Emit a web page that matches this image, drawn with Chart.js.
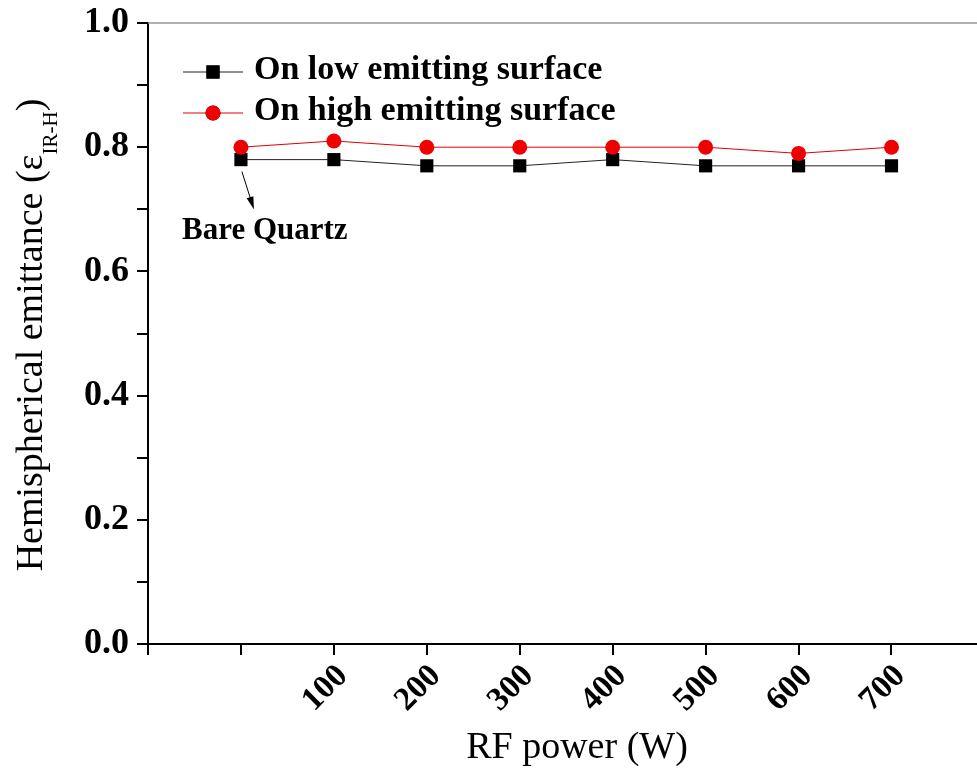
<!DOCTYPE html>
<html>
<head>
<meta charset="utf-8">
<script src="https://cdn.jsdelivr.net/npm/chart.js@4.4.0/dist/chart.umd.min.js"></script>
<style>
  html, body { margin: 0; padding: 0; background: #fff; }
  #wrap { width: 977px; height: 774px; }
</style>
</head>
<body>
<div id="wrap"><canvas id="chart" width="977" height="774"></canvas></div>
<script>
// --- Data ---
const rfPower = [0, 100, 200, 300, 400, 500, 600, 700];
const lowEmitting = [0.78, 0.78, 0.77, 0.77, 0.78, 0.77, 0.77, 0.77];
const highEmitting = [0.80, 0.81, 0.80, 0.80, 0.80, 0.80, 0.79, 0.80];
const xTicks = [-100, 0, 100, 200, 300, 400, 500, 600, 700];
const seriesNames = ['On low emitting surface', 'On high emitting surface'];

const SERIF = '"Liberation Serif", "Times New Roman", serif';

function toPoints(xs, ys) {
    return xs.map((x, i) => ({ x: x, y: ys[i] }));
}

// legend, titles, frame line and the "Bare Quartz" note
const decor = {
    id: 'decor',
    afterDraw(chart) {
        const ctx = chart.ctx;
        const area = chart.chartArea;
        const xs = chart.scales.x, ys = chart.scales.y;
        ctx.save();

        // thin grey frame on top
        ctx.strokeStyle = '#999';
        ctx.lineWidth = 1.5;
        ctx.beginPath();
        ctx.moveTo(area.left, area.top);
        ctx.lineTo(area.right, area.top);
        ctx.stroke();

        // legend (line + marker + bold text)
        const rows = [72, 113];
        chart.data.datasets.slice().sort((a, b) => a.legendRow - b.legendRow).forEach((ds, i) => {
            const y = rows[i];
            ctx.strokeStyle = ds.borderColor;
            ctx.lineWidth = 1;
            ctx.beginPath();
            ctx.moveTo(183, y);
            ctx.lineTo(243, y);
            ctx.stroke();
            Chart.helpers.drawPoint(ctx, {
                pointStyle: ds.pointStyle, radius: ds.pointRadius, rotation: 0, borderWidth: 0
            }, 213, y);
            ctx.fillStyle = ds.pointBackgroundColor;
            ctx.fill();
            ctx.fillStyle = '#000';
            ctx.font = 'bold 34px ' + SERIF;
            ctx.textAlign = 'left';
            ctx.textBaseline = 'middle';
            ctx.fillText(ds.label, 254, y - 2);
        });

        // Bare Quartz arrow
        const px = xs.getPixelForValue(rfPower[0]);
        const py = ys.getPixelForValue(lowEmitting[0]);
        const x0 = px + 1, y0 = py + 12, x1 = px + 13, y1 = py + 50;
        const ang = Math.atan2(y1 - y0, x1 - x0);
        ctx.strokeStyle = '#000';
        ctx.lineWidth = 1;
        ctx.beginPath();
        ctx.moveTo(x0, y0);
        ctx.lineTo(x1 - 10 * Math.cos(ang), y1 - 10 * Math.sin(ang));
        ctx.stroke();
        ctx.fillStyle = '#000';
        ctx.beginPath();
        ctx.moveTo(x1, y1);
        ctx.lineTo(x1 - 13 * Math.cos(ang) + 3.5 * Math.sin(ang), y1 - 13 * Math.sin(ang) - 3.5 * Math.cos(ang));
        ctx.lineTo(x1 - 13 * Math.cos(ang) - 3.5 * Math.sin(ang), y1 - 13 * Math.sin(ang) + 3.5 * Math.cos(ang));
        ctx.closePath();
        ctx.fill();
        ctx.font = 'bold 31px ' + SERIF;
        ctx.textAlign = 'left';
        ctx.textBaseline = 'alphabetic';
        ctx.fillText('Bare Quartz', 182, 239);

        // x axis title
        ctx.font = '38px ' + SERIF;
        ctx.textAlign = 'center';
        ctx.fillText('RF power (W)', 577, 758);

        // y axis title with subscript
        const main1 = 'Hemispherical emittance (\u03B5';
        const sub = 'IR-H';
        const main2 = ')';
        const fMain = '38px ' + SERIF, fSub = '21px ' + SERIF;
        ctx.font = fMain;
        const w1 = ctx.measureText(main1).width;
        const w3 = ctx.measureText(main2).width;
        ctx.font = fSub;
        const w2 = ctx.measureText(sub).width;
        const total = w1 + w2 + w3;
        ctx.translate(42, 335);
        ctx.rotate(-Math.PI / 2);
        ctx.textAlign = 'left';
        let cx = -total / 2;
        ctx.font = fMain;
        ctx.fillText(main1, cx, 0);
        cx += w1;
        ctx.font = fSub;
        ctx.fillText(sub, cx, 15);
        cx += w2;
        ctx.font = fMain;
        ctx.fillText(main2, cx, 0);

        ctx.restore();
    }
};

const ctx = document.getElementById('chart').getContext('2d');
new Chart(ctx, {
    type: 'line',
    data: {
        datasets: [
            {
                label: seriesNames[0],
                legendRow: 0,
                data: toPoints(rfPower, lowEmitting),
                borderColor: '#222',
                borderWidth: 1,
                pointStyle: 'rect',
                pointRadius: 9.3,
                pointBackgroundColor: '#000',
                pointBorderWidth: 0,
                order: 1
            },
            {
                label: seriesNames[1],
                legendRow: 1,
                data: toPoints(rfPower, highEmitting),
                borderColor: '#e00000',
                borderWidth: 1,
                pointStyle: 'circle',
                pointRadius: 7.5,
                pointBackgroundColor: '#f00000',
                pointBorderWidth: 0,
                order: 0
            }
        ]
    },
    options: {
        responsive: false,
        animation: false,
        devicePixelRatio: 1,
        layout: { autoPadding: false, padding: { top: 23, left: 0, right: 0, bottom: 0 } },
        plugins: {
            legend: { display: false },
            tooltip: { enabled: false }
        },
        scales: {
            x: {
                type: 'linear',
                min: -100,
                max: 792,
                afterBuildTicks: scale => { scale.ticks = xTicks.map(v => ({ value: v })); },
                afterFit: scale => {
                    scale.height = 130;
                    scale.paddingLeft = 0;
                    scale.paddingRight = 0;
                },
                border: { display: true, color: '#000', width: 2 },
                grid: { drawOnChartArea: false, drawTicks: true, tickLength: 11, color: '#000', lineWidth: 2 },
                ticks: {
                    minRotation: 45,
                    maxRotation: 45,
                    padding: 2,
                    labelOffset: 9,
                    color: '#000',
                    font: { family: SERIF, size: 33, weight: 'bold' },
                    callback: v => (v >= 100 ? String(v) : '')
                }
            },
            y: {
                min: 0,
                max: 1,
                afterFit: scale => {
                    scale.width = 148;
                    scale.paddingTop = 0;
                    scale.paddingBottom = 0;
                },
                border: { display: true, color: '#000', width: 2 },
                grid: { drawOnChartArea: false, drawTicks: true, tickLength: 11, color: '#000', lineWidth: 2 },
                ticks: {
                    stepSize: 0.1,
                    padding: 8,
                    color: '#000',
                    font: { family: SERIF, size: 36, weight: 'bold' },
                    callback: v => (Math.round(v * 10) % 2 === 0 ? v.toFixed(1) : '')
                }
            }
        }
    },
    plugins: [decor]
});
</script>
</body>
</html>
